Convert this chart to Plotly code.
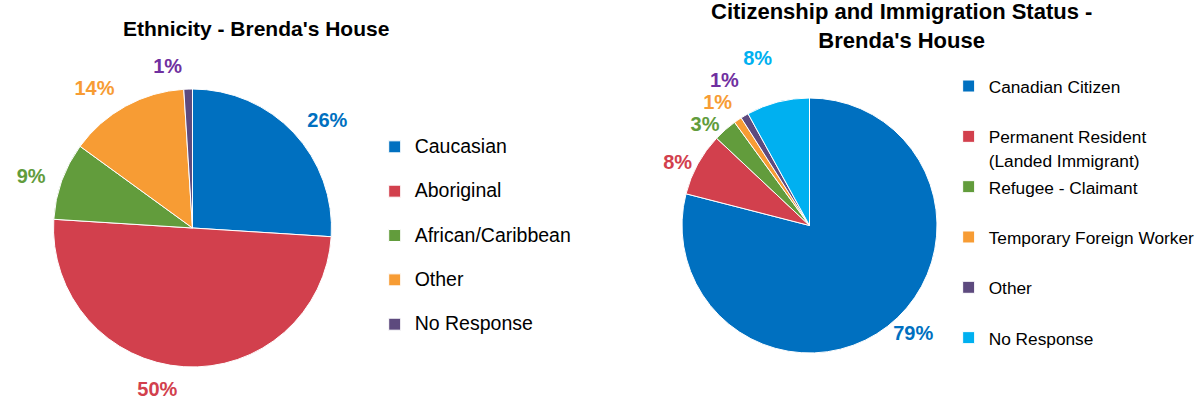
import plotly.graph_objects as go

# ---- data ----
eth_categories = ["Caucasian", "Aboriginal", "African/Caribbean", "Other", "No Response"]
eth_values = [26, 50, 9, 14, 1]

cit_categories = ["Canadian Citizen", "Permanent Resident (Landed Immigrant)", "Refugee - Claimant",
                  "Temporary Foreign Worker", "Other", "No Response"]
cit_values = [79, 8, 3, 1, 1, 8]

eth_title = "Ethnicity - Brenda's House"
cit_title = "Citizenship and Immigration Status -<br>Brenda's House"

# ---- styles ----
BLUE, RED, GREEN, ORANGE, PURPLE, LBLUE = "#0070C0", "#D2404D", "#629C3C", "#F79C34", "#5D4A7E", "#00B0F0"
PURPLE_TXT = "#7030A0"
eth_colors = [BLUE, RED, GREEN, ORANGE, PURPLE]
eth_text_colors = [BLUE, RED, GREEN, ORANGE, PURPLE_TXT]
cit_colors = [BLUE, RED, GREEN, ORANGE, PURPLE, LBLUE]
cit_text_colors = [BLUE, RED, GREEN, ORANGE, PURPLE_TXT, LBLUE]

FONT = "Liberation Sans, Arial, sans-serif"


def span(t, size):
    return '<span style="font-size:%spx">%s</span>' % (size, t)


# legend entries get a second (blank) line to reproduce the airy legend spacing
eth_legend_labels = [span(c, 19.5) + "<br> " for c in eth_categories]
cit_legend_labels = []
for c in cit_categories:
    if " (" in c:
        a, b = c.split(" (", 1)
        cit_legend_labels.append(span(a, 17.3) + "<br>" + span("(" + b, 17.3))
    else:
        cit_legend_labels.append(span(c, 17.3) + "<br> ")

pct_font = lambda cols: dict(family=FONT, size=20, color=cols, weight=700)

fig = go.Figure()

# Ethnicity pie (slices)
fig.add_trace(go.Pie(
    labels=eth_legend_labels, values=eth_values, sort=False, direction="clockwise", rotation=0,
    marker=dict(colors=eth_colors, line=dict(color="white", width=1)),
    textinfo="none",
    domain=dict(x=[0.0446, 0.2765], y=[0.0871, 0.7786]),
    legend="legend", hoverinfo="label+percent",
))
# Ethnicity percentage labels (same data, slightly larger transparent ring so labels sit further out)
fig.add_trace(go.Pie(
    labels=eth_legend_labels, values=eth_values, sort=False, direction="clockwise", rotation=0,
    marker=dict(colors=["rgba(0,0,0,0)"] * len(eth_values), line=dict(width=0)),
    texttemplate="%{percent:.0%}", textposition="outside",
    outsidetextfont=pct_font(eth_text_colors), textfont=pct_font(eth_text_colors),
    domain=dict(x=[0.0354, 0.2857], y=[0.0597, 0.806]),
    showlegend=False, hoverinfo="skip",
))

# Citizenship pie
fig.add_trace(go.Pie(
    labels=cit_legend_labels, values=cit_values, sort=False, direction="clockwise", rotation=0,
    marker=dict(colors=cit_colors, line=dict(color="white", width=1)),
    texttemplate="%{percent:.0%}", textposition="outside",
    outsidetextfont=pct_font(cit_text_colors), textfont=pct_font(cit_text_colors),
    domain=dict(x=[0.5688, 0.7815], y=[0.1219, 0.7562]),
    legend="legend2", hoverinfo="label+percent",
))

fig.update_layout(
    width=1199, height=402,
    margin=dict(l=0, r=0, t=0, b=0, autoexpand=False),
    paper_bgcolor="white", plot_bgcolor="white",
    font=dict(family=FONT, color="#000000"),
    legend=dict(x=0.3125, y=0.6766, xanchor="left", yanchor="top", valign="top",
                font=dict(family=FONT, size=15.9, color="#000000"),
                bgcolor="rgba(0,0,0,0)", borderwidth=0),
    legend2=dict(x=0.7912, y=0.8316, xanchor="left", yanchor="top", valign="top",
                 font=dict(family=FONT, size=18.2, color="#000000"),
                 bgcolor="rgba(0,0,0,0)", borderwidth=0),
    annotations=[
        dict(text=eth_title, x=0.2135, y=0.928, xref="paper", yref="paper",
             xanchor="center", yanchor="middle", showarrow=False,
             font=dict(family=FONT, size=21, color="#000000", weight=700)),
        dict(text=cit_title, x=0.752, y=0.935, xref="paper", yref="paper",
             xanchor="center", yanchor="middle", showarrow=False,
             font=dict(family=FONT, size=22, color="#000000", weight=700)),
    ],
)

# page styling: no body margin, and no leader lines for the outside percentage labels
post = ("var s=document.createElement('style');"
        "s.textContent='body{margin:0;} path.textline{display:none;}';"
        "document.head.appendChild(s);")

fig.write_html("out.html", post_script=post, config={"displayModeBar": False})
